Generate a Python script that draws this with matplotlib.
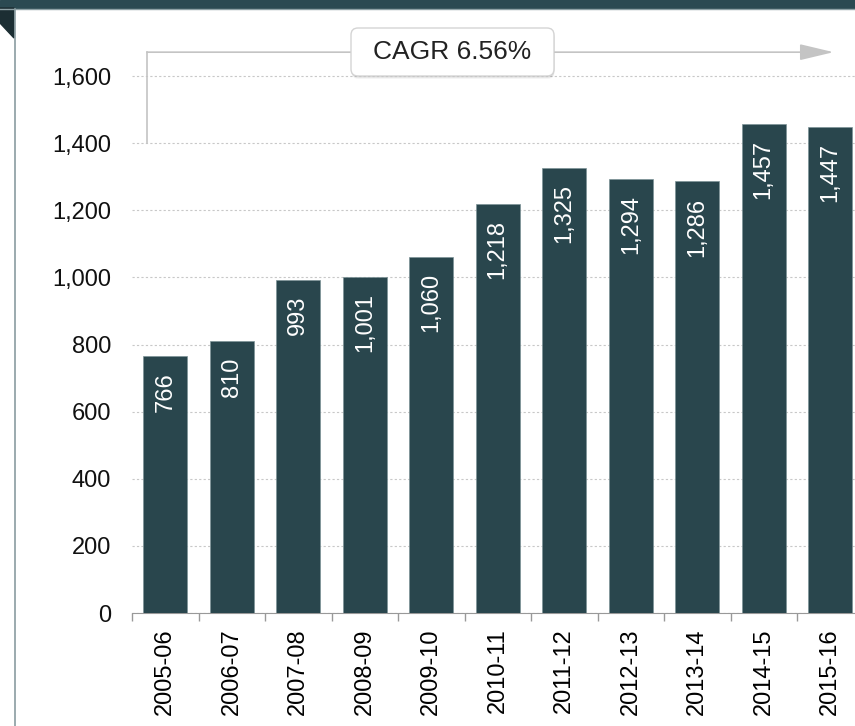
import matplotlib.pyplot as plt
from matplotlib.patches import FancyBboxPatch, Polygon, Rectangle
from matplotlib.lines import Line2D
from matplotlib.ticker import FuncFormatter, FixedLocator

plt.rcParams['font.family'] = ['Liberation Sans', 'DejaVu Sans']

years = ['2005-06', '2006-07', '2007-08', '2008-09', '2009-10', '2010-11',
         '2011-12', '2012-13', '2013-14', '2014-15', '2015-16']
values = [766, 810, 993, 1001, 1060, 1218, 1325, 1294, 1286, 1457, 1447]
cagr_text = 'CAGR 6.56%'

BAR = '#29464D'
GRID = '#C8C8C8'
ARROW = '#C4C4C4'

W, H = 855, 726
fig = plt.figure(figsize=(W / 100, H / 100), dpi=100)

# frame decorations (page header band, left rule, corner flap)
fig.patches.append(Rectangle((0, 1 - 7.5 / H), 1, 7.5 / H, transform=fig.transFigure,
                             color='#2B4A52', zorder=0))
fig.lines.append(Line2D([0, 1], [1 - 8.5 / H] * 2, transform=fig.transFigure,
                        color='#8FA2A6', lw=1))
fig.lines.append(Line2D([14.5 / W] * 2, [0, 1 - 8.5 / H], transform=fig.transFigure,
                        color='#8A9CA1', lw=1.2))
fig.patches.append(Polygon([(0, 1 - 8 / H), (14 / W, 1 - 8 / H), (14 / W, 1 - 38 / H),
                            (0, 1 - 23 / H)], closed=True, transform=fig.transFigure,
                           color='#1C2E33', zorder=1))

ylim_top = 1700
px_per_unit = (613 - 76) / 1600
step = 66.5
ax = fig.add_axes([132 / W, 113 / H, step * len(years) / W, ylim_top * px_per_unit / H])

x = range(len(years))
ax.bar(x, values, width=0.66, color=BAR, edgecolor='#7D9397', linewidth=0.5, zorder=3)

for xi, v in zip(x, values):
    ax.text(xi, v - 16 / px_per_unit, f'{v:,}', rotation=90, ha='center', va='top',
            color='white', fontsize=17, zorder=4)

ax.set_xlim(-0.5, len(years) - 0.5)
ax.set_ylim(0, ylim_top)
ax.set_yticks(range(0, 1601, 200))
ax.yaxis.set_major_formatter(FuncFormatter(lambda v, p: f'{int(v):,}'))
ax.tick_params(axis='y', length=0, pad=15, labelsize=17, labelcolor='#111111')
ax.set_xticks(list(x))
ax.set_xticklabels(years, rotation=90, fontsize=17)
ax.xaxis.set_minor_locator(FixedLocator([i - 0.5 for i in range(len(years) + 1)]))
ax.tick_params(axis='x', which='major', length=0, pad=11)
ax.tick_params(axis='x', which='minor', length=6, color='#999999', width=1)

for s in ['top', 'right', 'left']:
    ax.spines[s].set_visible(False)
ax.spines['bottom'].set_color('#999999')
ax.yaxis.grid(True, color=GRID, linestyle=(0, (2, 2)), linewidth=0.8, zorder=0)
ax.set_axisbelow(True)

# CAGR bracket with arrow
bx = -0.275
by = 1671
ax.plot([bx, bx], [1400, by], color=ARROW, lw=1.2, clip_on=False, zorder=2)
ax.annotate('', xy=(10.05, by), xytext=(bx, by),
            arrowprops=dict(arrowstyle='-|>,head_length=2.1,head_width=0.5',
                            color=ARROW, lw=1.2, shrinkA=0, shrinkB=0,
                            mutation_scale=10),
            annotation_clip=False, zorder=2)

# label box with soft shadow
bx0, by0, bw, bh = 3.51, (H - 76) / 100, 2.03, 0.48
for i, a in enumerate([0.06, 0.05, 0.04]):
    off = 0.01 * (i + 1)
    fig.patches.append(FancyBboxPatch((bx0 + 0.005, by0 - off), bw, bh,
                                      boxstyle='round,pad=0,rounding_size=0.07',
                                      transform=fig.dpi_scale_trans,
                                      fc='black', ec='none', alpha=a, zorder=5))
fig.patches.append(FancyBboxPatch((bx0, by0), bw, bh,
                                  boxstyle='round,pad=0,rounding_size=0.07',
                                  transform=fig.dpi_scale_trans,
                                  fc='white', ec='#D4D4D4', lw=1, zorder=6))
fig.text(bx0 + bw / 2, by0 + bh / 2, cagr_text, transform=fig.dpi_scale_trans,
         ha='center', va='center', fontsize=19, color='#222222', zorder=7)

fig.savefig('out.png', dpi=100)
